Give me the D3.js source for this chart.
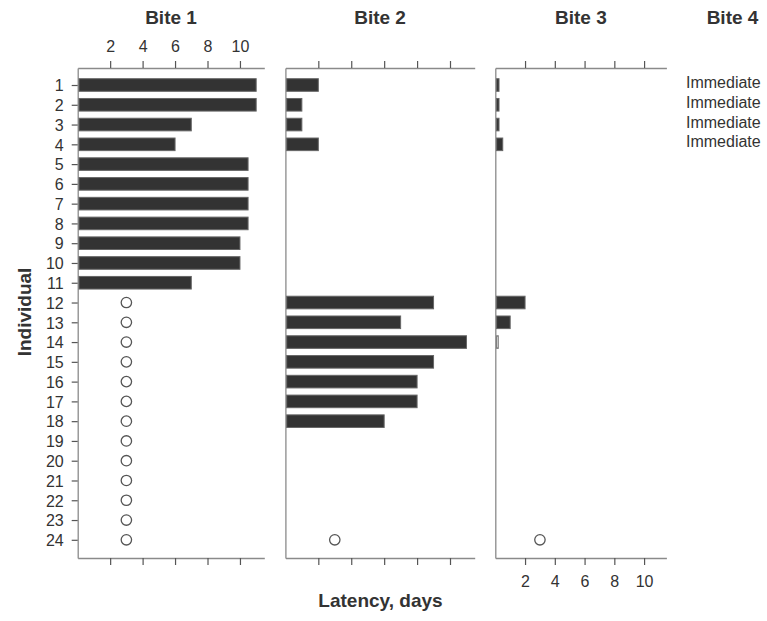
<!DOCTYPE html>
<html>
<head>
<meta charset="utf-8">
<script src="https://cdn.jsdelivr.net/npm/d3@7"></script>
<style>
  html, body { margin: 0; padding: 0; background: #fff; }
  svg { display: block; font-family: "Liberation Sans", Arial, sans-serif; }
</style>
</head>
<body>
<svg id="chart" width="767" height="621"></svg>
<script>
// Individuals (rows) and latency in days for each successive bite
const individuals = d3.range(1, 25);
const bite1Days = [11, 11, 7, 6, 10.5, 10.5, 10.5, 10.5, 10, 10, 7,
                   null, null, null, null, null, null, null, null, null, null, null, null, null];
const bite2Days = [2, 1, 1, 2, null, null, null, null, null, null, null,
                   9, 7, 11, 9, 8, 8, 6, null, null, null, null, null, null];
const bite3Days = [0.25, 0.25, 0.25, 0.5, null, null, null, null, null, null, null,
                   2, 1, 0.2, null, null, null, null, null, null, null, null, null, null];
// Bars drawn as outline only (bite 3, individual 14)
const bite3Outline = [14];
// Individuals that did not bite within the observation window (open circles)
const bite1Censored = [12, 13, 14, 15, 16, 17, 18, 19, 20, 21, 22, 23, 24];
const bite2Censored = [24];
const bite3Censored = [24];
const censoredDays = 3;
// Bite 4 happened immediately for these individuals
const bite4Immediate = [1, 2, 3, 4];
const xTicks = [2, 4, 6, 8, 10];
const panelTitles = ["Bite 1", "Bite 2", "Bite 3", "Bite 4"];

const svg = d3.select("#chart");
const textColor = "#333";
const axisColor = "#8a8a8a";
const fontFamily = "Liberation Sans, Arial, sans-serif";

const yTop = 68, yBottom = 558;
const y = d3.scaleLinear().domain([0.14, 24.92]).range([yTop, yBottom]);
const barH = 12.6;

const panels = [
  { title: panelTitles[0], days: bite1Days, censored: bite1Censored, range: [77.7, 264.3], topLabels: true, bottomLabels: false, yLabels: true },
  { title: panelTitles[1], days: bite2Days, censored: bite2Censored, range: [285.4, 474.7], topLabels: false, bottomLabels: false, yLabels: false },
  { title: panelTitles[2], days: bite3Days, censored: bite3Censored, range: [495.3, 666.4], topLabels: false, bottomLabels: true, yLabels: false, outline: bite3Outline }
];

panels.forEach(p => {
  const x = d3.scaleLinear().domain([0, 11.5]).range(p.range);
  const g = svg.append("g");

  // top axis
  const top = g.append("g").attr("transform", `translate(0,${yTop})`)
    .call(d3.axisTop(x).tickValues(xTicks).tickSize(7).tickSizeOuter(0)
      .tickFormat(p.topLabels ? d3.format("d") : () => ""));
  // bottom axis
  const bottom = g.append("g").attr("transform", `translate(0,${yBottom})`)
    .call(d3.axisBottom(x).tickValues(xTicks).tickSize(7).tickSizeOuter(0)
      .tickFormat(p.bottomLabels ? d3.format("d") : () => ""));
  // left axis
  const left = g.append("g").attr("transform", `translate(${p.range[0]},0)`)
    .call(d3.axisLeft(y).tickValues(p.yLabels ? individuals : []).tickSize(p.yLabels ? 6 : 0)
      .tickSizeOuter(0).tickFormat(d3.format("d")));

  [top, bottom, left].forEach(a => {
    a.attr("font-family", fontFamily).attr("font-size", 16);
    a.select(".domain").attr("stroke", axisColor).attr("stroke-width", 1.3);
    a.selectAll(".tick line").attr("stroke", "#555").attr("stroke-width", 1.2);
    a.selectAll(".tick text").attr("fill", textColor);
  });
  top.selectAll(".tick text").attr("dy", null).attr("y", -16);
  bottom.selectAll(".tick text").attr("dy", null).attr("y", 29);
  left.selectAll(".tick text").attr("x", -14).attr("dy", "0.36em");

  const rows = individuals.map((id, i) => ({ id, v: p.days[i] })).filter(d => d.v != null);
  const outline = p.outline || [];
  g.selectAll("rect.bar").data(rows).join("rect")
    .attr("class", "bar")
    .attr("x", x(0) + 1.3)
    .attr("y", d => y(d.id) - barH / 2)
    .attr("width", d => Math.max(0, x(d.v) - x(0) - 1.3))
    .attr("height", barH)
    .attr("fill", d => outline.includes(d.id) ? "#e8e8e8" : "#333")
    .attr("stroke", d => outline.includes(d.id) ? "#777" : "#666")
    .attr("stroke-width", 1);

  g.selectAll("circle.cens").data(p.censored).join("circle")
    .attr("class", "cens")
    .attr("cx", x(censoredDays))
    .attr("cy", d => y(d))
    .attr("r", 5.2)
    .attr("fill", "none")
    .attr("stroke", "#555")
    .attr("stroke-width", 1.3);

  svg.append("text")
    .attr("x", (p.range[0] + p.range[1]) / 2)
    .attr("y", 24)
    .attr("text-anchor", "middle")
    .attr("font-size", 19).attr("font-weight", "bold").attr("fill", textColor)
    .text(p.title);
});

// Bite 4 column
svg.append("text")
  .attr("x", 732.5).attr("y", 24)
  .attr("text-anchor", "middle")
  .attr("font-size", 19).attr("font-weight", "bold").attr("fill", textColor)
  .text(panelTitles[3]);

svg.selectAll("text.immediate").data(bite4Immediate).join("text")
  .attr("class", "immediate")
  .attr("x", 686)
  .attr("y", d => y(d) + 3)
  .attr("font-size", 16).attr("fill", textColor)
  .text("Immediate");

// Axis titles
svg.append("text")
  .attr("x", 380.5).attr("y", 607)
  .attr("text-anchor", "middle")
  .attr("font-size", 19).attr("font-weight", "bold").attr("fill", textColor)
  .text("Latency, days");

svg.append("text")
  .attr("transform", "translate(31,312) rotate(-90)")
  .attr("text-anchor", "middle")
  .attr("font-size", 19).attr("font-weight", "bold").attr("fill", textColor)
  .text("Individual");
</script>
</body>
</html>
